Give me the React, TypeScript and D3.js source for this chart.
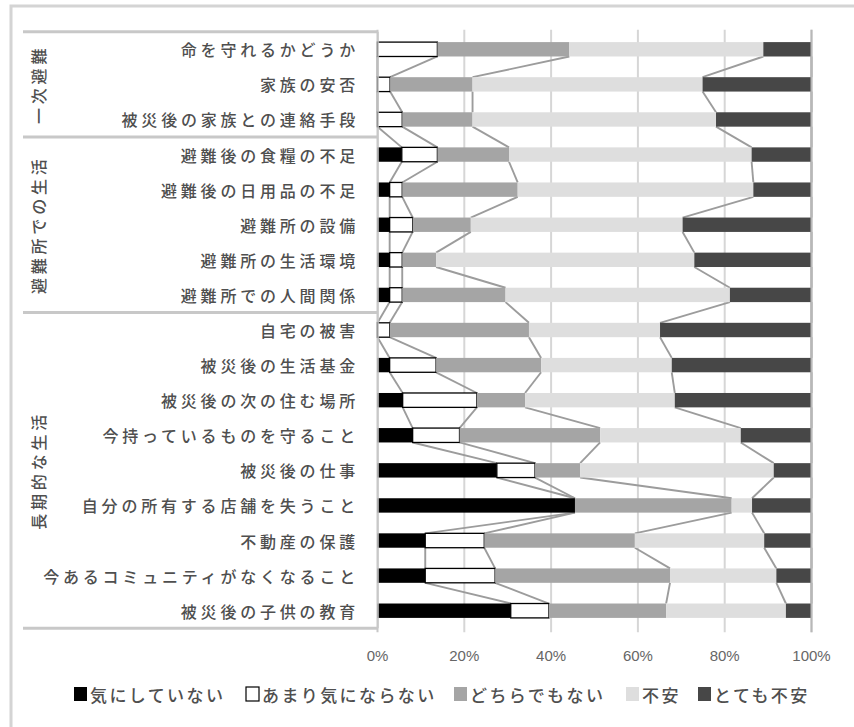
import React from "react";
import * as d3 from "d3";

const categories = [
  "命を守れるかどうか",
  "家族の安否",
  "被災後の家族との連絡手段",
  "避難後の食糧の不足",
  "避難後の日用品の不足",
  "避難所の設備",
  "避難所の生活環境",
  "避難所での人間関係",
  "自宅の被害",
  "被災後の生活基金",
  "被災後の次の住む場所",
  "今持っているものを守ること",
  "被災後の仕事",
  "自分の所有する店舗を失うこと",
  "不動産の保護",
  "今あるコミュニティがなくなること",
  "被災後の子供の教育",
];

const groupNames = ["一次避難", "避難所での生活", "長期的な生活"];
const groupSizes = [3, 5, 9];

const seriesNames = ["気にしていない", "あまり気にならない", "どちらでもない", "不安", "とても不安"];

const notCare = [0, 0, 0, 5.6, 2.8, 2.8, 2.8, 2.8, 0, 2.8, 5.8, 8.1, 27.5, 45.5, 11.0, 11.0, 30.7];
const notMuch = [13.8, 2.9, 5.7, 8.2, 2.9, 5.3, 2.9, 2.9, 2.8, 10.7, 17.1, 10.8, 8.8, 0, 13.6, 16.1, 8.8];
const neutral = [30.4, 19.0, 16.2, 16.5, 26.6, 13.4, 7.8, 23.8, 32.1, 24.2, 11.1, 32.4, 10.4, 36.1, 34.7, 40.3, 27.0];
const anxious = [44.7, 53.0, 56.1, 55.9, 54.3, 48.8, 59.5, 51.7, 30.2, 30.1, 34.5, 32.4, 44.6, 4.7, 29.8, 24.5, 27.6];
const veryAnxious = [11.1, 25.1, 22.0, 13.8, 13.4, 29.7, 27.0, 18.8, 34.9, 32.2, 31.5, 16.3, 8.7, 13.7, 10.9, 8.1, 5.9];

const tickValues = [0, 20, 40, 60, 80, 100];

const fills = ["#000000", "#ffffff", "#a5a5a5", "#dedede", "#474747"];
const strokes = ["none", "#000000", "none", "none", "none"];

const W = 854;
const H = 727;
const JP = "'Noto Sans CJK JP', 'Noto Sans', sans-serif";

export default function App() {
  const x = d3.scaleLinear().domain([0, 100]).range([377.5, 811.5]);
  const y = d3
    .scaleBand<string>()
    .domain(categories)
    .range([31.75, 628.25])
    .paddingInner(0.59)
    .paddingOuter(0.295);

  const rows = categories.map((c, i) => ({
    cat: c,
    notCare: notCare[i],
    notMuch: notMuch[i],
    neutral: neutral[i],
    anxious: anxious[i],
    veryAnxious: veryAnxious[i],
  }));
  const keys = ["notCare", "notMuch", "neutral", "anxious", "veryAnxious"];
  const stacked = d3.stack<any>().keys(keys)(rows);

  const bw = y.bandwidth();
  const step = y.step();
  const top = y.range()[0];
  const bottom = y.range()[1];

  const seriesLines: { x1: number; y1: number; x2: number; y2: number }[] = [];
  stacked.forEach((s) => {
    for (let i = 0; i < categories.length - 1; i++) {
      seriesLines.push({
        x1: x(s[i][1]),
        y1: (y(categories[i]) as number) + bw,
        x2: x(s[i + 1][1]),
        y2: y(categories[i + 1]) as number,
      });
    }
  });

  const boundaries: number[] = [top];
  let acc = 0;
  groupSizes.forEach((g) => {
    acc += g;
    boundaries.push(top + acc * step);
  });

  const legendX = [73, 245, 453, 625, 697];

  return (
    <svg
      width={W}
      height={H}
      style={{ position: "absolute", left: 0, top: 0, background: "#fff" }}
    >
      <rect x={0} y={0} width={W} height={H} fill="#fff" />
      <rect x={11} y={6} width={W + 20} height={H + 20} fill="none" stroke="#d4d4d4" strokeWidth={3} />

      {tickValues.map((t) => (
        <line
          key={"g" + t}
          x1={x(t)}
          x2={x(t)}
          y1={top - 2}
          y2={bottom + 4}
          stroke={t === 0 ? "#c8c8c8" : "#d6d6d6"}
          strokeWidth={2}
        />
      ))}

      {seriesLines.map((l, i) => (
        <line key={"sl" + i} x1={l.x1} y1={l.y1} x2={l.x2} y2={l.y2} stroke="#9c9c9c" strokeWidth={1.9} />
      ))}

      {stacked.map((s, si) =>
        s.map((d, i) => {
          const w = x(d[1]) - x(d[0]);
          if (w <= 0) return null;
          return (
            <rect
              key={si + "-" + i}
              x={x(d[0])}
              y={y(categories[i]) as number}
              width={w}
              height={bw}
              fill={fills[si]}
              stroke={strokes[si]}
              strokeWidth={strokes[si] === "none" ? 0 : 1.3}
            />
          );
        })
      )}

      <line x1={x(100)} x2={x(100)} y1={top - 2} y2={bottom + 4} stroke="#b8b8b8" strokeWidth={2} />

      {boundaries.map((b, i) => (
        <line key={"tb" + i} x1={23} x2={378} y1={b} y2={b} stroke="#c8c8c8" strokeWidth={3} />
      ))}
      <line x1={378} x2={378} y1={top} y2={bottom} stroke="#c8c8c8" strokeWidth={1.5} />

      {categories.map((c) => (
        <text
          key={"c" + c}
          x={359}
          y={(y(c) as number) + bw / 2}
          textAnchor="end"
          dominantBaseline="central"
          fontFamily={JP}
          fontSize={16}
          fontWeight={500}
          letterSpacing={3.8}
          fill="#4f4f4f"
        >
          {c}
        </text>
      ))}

      {groupNames.map((g, i) => {
        const cy = (boundaries[i] + boundaries[i + 1]) / 2;
        return (
          <text
            key={"grp" + g}
            transform={`translate(38,${cy}) rotate(-90)`}
            textAnchor="middle"
            dominantBaseline="central"
            fontFamily={JP}
            fontSize={16}
            fontWeight={500}
            letterSpacing={3.8}
            fill="#4f4f4f"
          >
            {g}
          </text>
        );
      })}

      {tickValues.map((t) => (
        <text
          key={"t" + t}
          x={x(t)}
          y={655}
          textAnchor="middle"
          dominantBaseline="central"
          fontFamily="'Liberation Sans', sans-serif"
          fontSize={15}
          fill="#666"
        >
          {t + "%"}
        </text>
      ))}

      {seriesNames.map((n, i) => (
        <g key={"lg" + n}>
          <rect
            x={legendX[i] + 1}
            y={687}
            width={13}
            height={14}
            fill={fills[i]}
            stroke={strokes[i]}
            strokeWidth={strokes[i] === "none" ? 0 : 1.2}
          />
          <text
            x={legendX[i] + 17}
            y={694}
            dominantBaseline="central"
            fontFamily={JP}
            fontSize={17}
            fontWeight={500}
            letterSpacing={2.4}
            fill="#4f4f4f"
          >
            {n}
          </text>
        </g>
      ))}
    </svg>
  );
}
